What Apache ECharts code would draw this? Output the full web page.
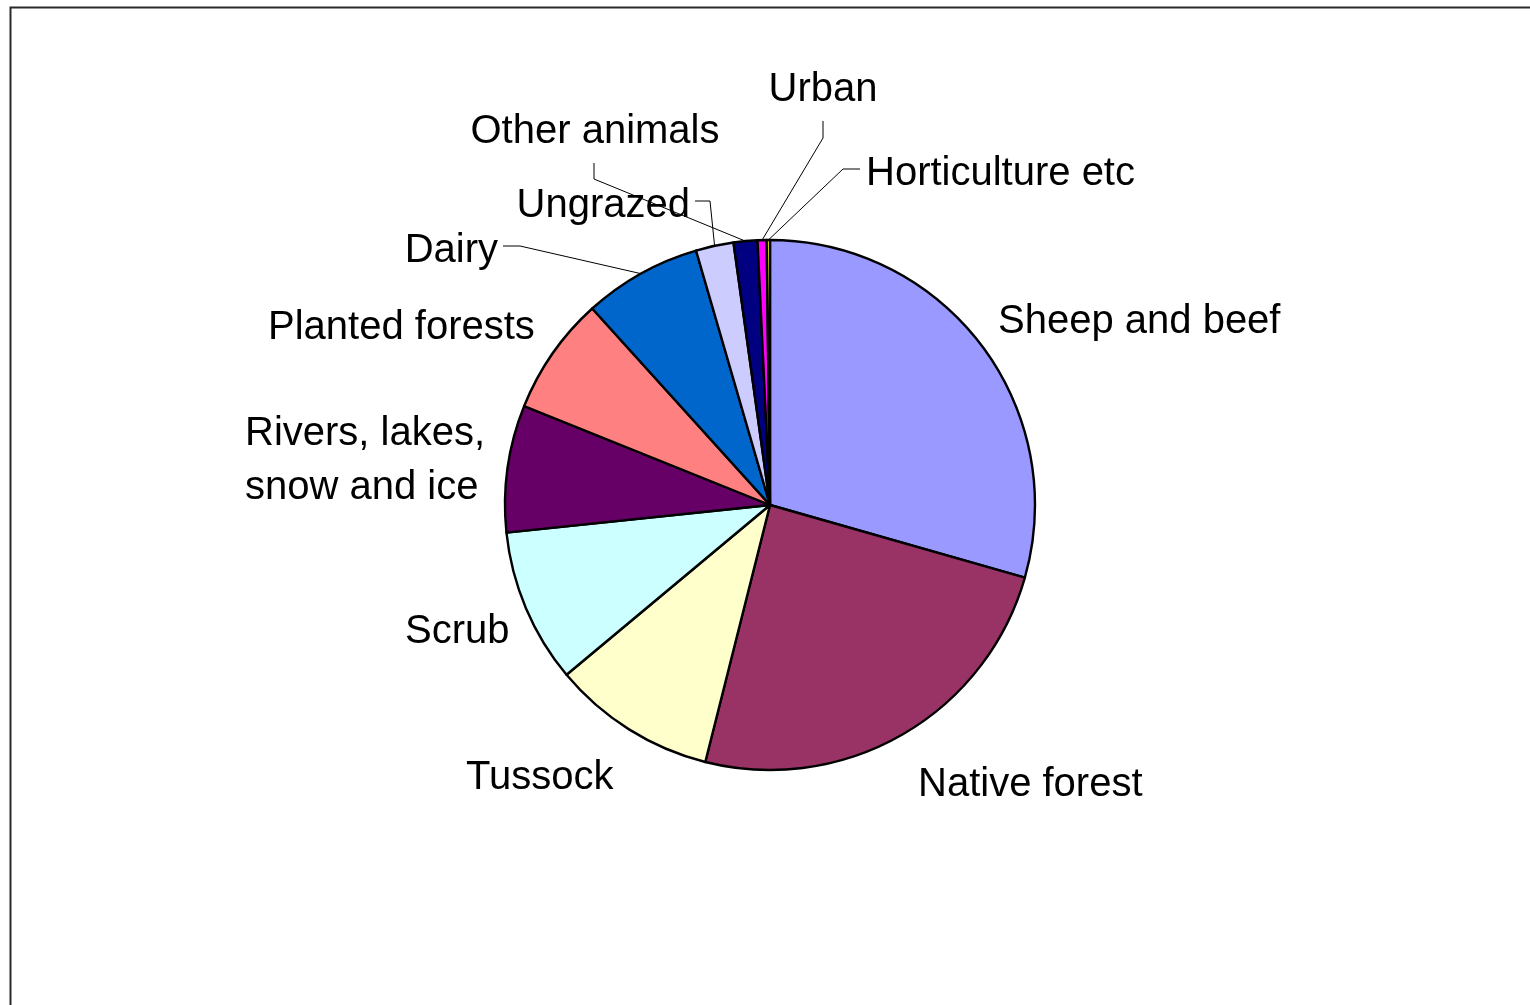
<!DOCTYPE html>
<html>
<head>
<meta charset="utf-8">
<script src="https://cdn.jsdelivr.net/npm/echarts@6/dist/echarts.min.js"></script>
<style>
html,body{margin:0;padding:0;background:#fff;}
#chart{width:1530px;height:1005px;}
</style>
</head>
<body>
<div id="chart"></div>
<script>
// ---- data ----
const categories = ["Sheep and beef","Native forest","Tussock","Scrub","Rivers, lakes,\nsnow and ice","Planted forests","Dairy","Ungrazed","Other animals","Urban","Horticulture etc"];
const values = [29.4, 24.5, 10.0, 9.4, 7.75, 7.2, 7.2, 2.3, 1.45, 0.55, 0.2];
const colors = ["#9999FF","#993366","#FFFFCC","#CCFFFF","#660066","#FF8080","#0066CC","#CCCCFF","#000080","#FF00FF","#FFFF00"];

// ---- label placement (style) ----
const labelPlace = [
  {x:998, y:322, align:'left'},
  {x:918, y:785, align:'left'},
  {x:466, y:778, align:'left'},
  {x:405, y:632, align:'left'},
  {x:245, y:461, align:'left'},
  {x:268, y:328, align:'left'},
  {x:498, y:251, align:'right', line:[[520,246],[503,246]]},
  {x:690, y:206, align:'right', line:[[710,201],[695,201]]},
  {x:595, y:132, align:'center', line:[[594,179],[594,163]]},
  {x:823, y:90, align:'center', line:[[823,138],[823,121]]},
  {x:866, y:174, align:'left', line:[[843,169],[860,169]]}
];

const chart = echarts.init(document.getElementById('chart'), null, {renderer:'canvas'});
const data = categories.map((n,i)=>({
  name:n, value:values[i],
  itemStyle:{color:colors[i]},
  labelLine:{show: !!labelPlace[i].line}
}));

chart.setOption({
  animation:false,
  backgroundColor:'#fff',
  graphic:[{
    type:'rect', left:8, top:5, z:-10,
    shape:{width:1600, height:1100},
    style:{fill:'none', stroke:'#2a2a2a', lineWidth:2}
  }],
  series:[{
    type:'pie',
    center:[770,505],
    radius:265,
    startAngle:90,
    clockwise:true,
    avoidLabelOverlap:false,
    data:data,
    itemStyle:{borderColor:'#000', borderWidth:2.4},
    label:{
      show:true, position:'outside',
      formatter:'{b}',
      color:'#000',
      fontFamily:'Liberation Sans, Arial, sans-serif',
      fontSize:40,
      lineHeight:54
    },
    labelLine:{show:true, length:10, length2:10, lineStyle:{color:'#000', width:1}},
    labelLayout:function(params){
      const L = labelPlace[params.dataIndex];
      const out = {x:L.x, y:L.y, align:L.align, verticalAlign:'middle'};
      if (L.line && params.labelLinePoints) {
        const p0 = params.labelLinePoints[0];
        out.labelLinePoints = [[p0[0],p0[1]], L.line[0], L.line[1]];
      }
      return out;
    }
  }]
});
</script>
</body>
</html>
